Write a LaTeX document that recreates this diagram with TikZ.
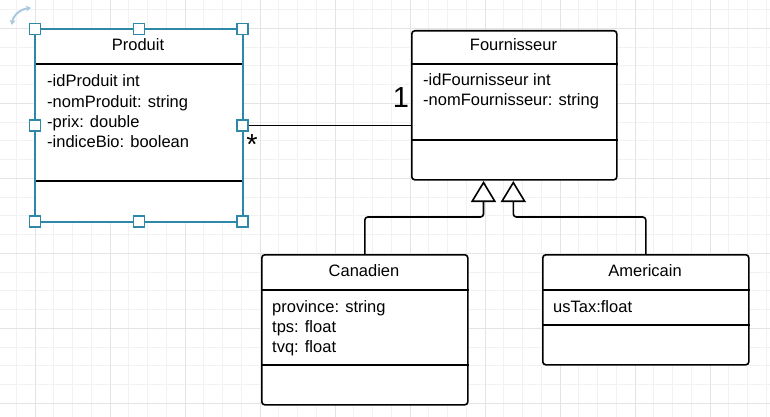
\documentclass[tikz,border=0pt]{standalone}
\usepackage{fontspec}
\setmainfont{Liberation Sans}
\usetikzlibrary{arrows.meta}
\definecolor{selblue}{RGB}{48,136,168}
\definecolor{gridminor}{RGB}{242,242,242}
\definecolor{gridmajor}{RGB}{228,228,228}
\definecolor{rotblue}{RGB}{170,200,222}
\begin{document}
\begin{tikzpicture}[x=1pt,y=-1pt,
  umlbox/.style={draw=black, line width=1.6pt, rounded corners=3pt, fill=white, inner sep=0pt, anchor=north west},
  divider/.style={line width=1.6pt},
  txt/.style={inner sep=0pt, anchor=base west, font=\fontsize{16.5}{20}\selectfont},
  ttl/.style={inner sep=0pt, anchor=base, font=\fontsize{16.5}{20}\selectfont},
  mult/.style={inner sep=0pt, anchor=base, font=\fontsize{29}{32}\selectfont},
  conn/.style={line width=1.6pt, line join=round},
  genarrow/.style={conn, rounded corners=3pt, -{Triangle[open, length=21pt, width=25pt, line width=1.6pt, fill=white]}},
  handle/.style={draw=selblue, fill=white, line width=1.4pt, minimum size=11pt, inner sep=0pt}
]
\useasboundingbox (0,0) rectangle (770,417);
\fill[white] (0,0) rectangle (770,417);
% grid
\foreach \k in {-1,...,39} \draw[gridminor, line width=0.9pt] ({35+18.75*\k},0) -- ({35+18.75*\k},417);
\foreach \k in {-1,...,20} \draw[gridminor, line width=0.9pt] (0,{28.33+18.75*\k}) -- (770,{28.33+18.75*\k});
\foreach \k in {0,...,9} \draw[gridmajor, line width=0.9pt] ({35+75*\k},0) -- ({35+75*\k},417);
\foreach \k in {0,...,5} \draw[gridmajor, line width=0.9pt] (0,{28.33+75*\k}) -- (770,{28.33+75*\k});

% boxes
\node[umlbox, draw=none, rounded corners=0pt, minimum width=206, minimum height=191] (produit) at (35,29) {};
\node[umlbox, minimum width=205, minimum height=149] (fourn) at (411,30) {};
\node[umlbox, minimum width=206, minimum height=150] (canadien) at (261,254) {};
\node[umlbox, minimum width=206, minimum height=110] (americain) at (542,254) {};

% dividers
\draw[divider] (produit.west |- 0,64) -- (produit.east |- 0,64);
\draw[divider] (produit.west |- 0,181) -- (produit.east |- 0,181);
\draw[selblue, line width=1.8pt] (produit.north west) rectangle (produit.south east);
\draw[divider] (fourn.west |- 0,64) -- (fourn.east |- 0,64);
\draw[divider] (fourn.west |- 0,140) -- (fourn.east |- 0,140);
\draw[divider] (canadien.west |- 0,290) -- (canadien.east |- 0,290);
\draw[divider] (canadien.west |- 0,365) -- (canadien.east |- 0,365);
\draw[divider] (americain.west |- 0,290) -- (americain.east |- 0,290);
\draw[divider] (americain.west |- 0,325) -- (americain.east |- 0,325);

% texts
\node[ttl] (tp) at (138,51) {Produit};
\node[txt] (p1) at (47,87) {-idProduit int};
\node[txt] (p2) at (47,107) {-nomProduit: string};
\node[txt] (p3) at (47,127) {-prix: double};
\node[txt] (p4) at (47,147) {-indiceBio: boolean};

\node[ttl] (tf) at (513.5,51) {Fournisseur};
\node[txt] (f1) at (423,86) {-idFournisseur int};
\node[txt] (f2) at (423,106) {-nomFournisseur: string};

\node[ttl] (tc) at (364,276) {Canadien};
\node[txt] (c1) at (272,312) {province: string};
\node[txt] (c2) at (272,332) {tps: float};
\node[txt] (c3) at (272,352) {tvq: float};

\node[ttl] (ta) at (645,276) {Americain};
\node[txt] (a1) at (553,312) {usTax:float};

% association
\draw[conn] (produit.east) -- (produit.east -| fourn.west);
\node[mult] (m1) at (401,108) {1};
\node[mult] (m2) at (252,154.5) {*};

% generalizations
\coordinate (g1) at (483.5,181);
\coordinate (g2) at (513.3,181);
\draw[genarrow] (canadien.north) -- (canadien.north |- 0,217) -- (g1 |- 0,217) -- (g1);
\draw[genarrow] (americain.north) -- (americain.north |- 0,217) -- (g2 |- 0,217) -- (g2);

% selection handles
\node[handle] (h1) at (produit.north west) {};
\node[handle] (h2) at (produit.north) {};
\node[handle] (h3) at (produit.north east) {};
\node[handle] (h4) at (produit.west) {};
\node[handle] (h5) at (produit.east) {};
\node[handle] (h6) at (produit.south west) {};
\node[handle] (h7) at (produit.south) {};
\node[handle] (h8) at (produit.south east) {};

% rotate icon
\draw[rotblue, line width=2pt, {Stealth[length=5pt,width=6pt]}-{Stealth[length=5pt,width=6pt]}] (12,25) .. controls (13,15) and (21,9) .. (31,8);
\end{tikzpicture}
\end{document}
